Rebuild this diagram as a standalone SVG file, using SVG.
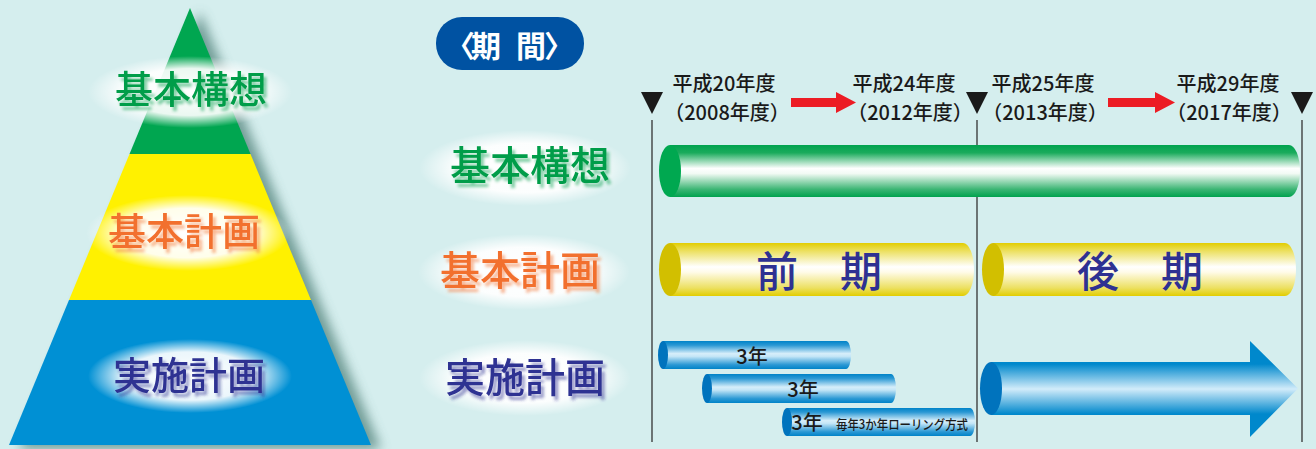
<svg xmlns="http://www.w3.org/2000/svg" width="1316" height="449" viewBox="0 0 1316 449">
<style>
.jp{font-family:"Noto Sans CJK JP","Noto Sans CJK SC",sans-serif}
.lbl{font-size:38px;text-anchor:middle;font-weight:500}
.lbl2{font-size:40px;text-anchor:middle;font-weight:500}
.g{fill:#009d48}
.o{fill:#f2702e}
.b{fill:#2e3192}
.hd{font-size:20px;fill:#1a1a1a;text-anchor:middle;font-weight:500}
.yr{font-size:20px;fill:#1a1a1a;text-anchor:middle;font-weight:500}
.vline{stroke:#333;stroke-width:1.3;fill:none}
.tri{fill:#1a1a1a}
.red{fill:#ec1c24}
</style>
<defs>
<radialGradient id="glow" cx="0.5" cy="0.5" r="0.5">
<stop offset="0" stop-color="#fff" stop-opacity="1"/>
<stop offset="0.65" stop-color="#fff" stop-opacity="0.92"/>
<stop offset="1" stop-color="#fff" stop-opacity="0"/>
</radialGradient>
<linearGradient id="gG" x1="0" y1="0" x2="0" y2="1">
<stop offset="0" stop-color="#00a24e"/>
<stop offset="0.15" stop-color="#1aab5c"/>
<stop offset="0.45" stop-color="#ffffff"/>
<stop offset="0.55" stop-color="#f2faf4"/>
<stop offset="0.85" stop-color="#3db675"/>
<stop offset="1" stop-color="#00a24e"/>
</linearGradient>
<linearGradient id="gY" x1="0" y1="0" x2="0" y2="1">
<stop offset="0" stop-color="#e2cd00"/>
<stop offset="0.15" stop-color="#ece060"/>
<stop offset="0.45" stop-color="#ffffff"/>
<stop offset="0.55" stop-color="#fffbe8"/>
<stop offset="0.85" stop-color="#ece060"/>
<stop offset="1" stop-color="#e2cd00"/>
</linearGradient>
<linearGradient id="gB" x1="0" y1="0" x2="0" y2="1">
<stop offset="0" stop-color="#0083c8"/>
<stop offset="0.15" stop-color="#2a98d4"/>
<stop offset="0.45" stop-color="#d6eefa"/>
<stop offset="0.55" stop-color="#c4e6f7"/>
<stop offset="0.85" stop-color="#2a98d4"/>
<stop offset="1" stop-color="#0083c8"/>
</linearGradient>
<linearGradient id="gA" gradientUnits="userSpaceOnUse" x1="0" y1="341" x2="0" y2="437">
<stop offset="0" stop-color="#0088cc"/>
<stop offset="0.24" stop-color="#0088cc"/>
<stop offset="0.5" stop-color="#d2ecfa"/>
<stop offset="0.76" stop-color="#0088cc"/>
<stop offset="1" stop-color="#0088cc"/>
</linearGradient>
<filter id="pshadow" x="-20%" y="-20%" width="140%" height="140%">
<feGaussianBlur stdDeviation="6"/>
</filter>
<filter id="tsh" x="-10%" y="-20%" width="130%" height="150%">
<feGaussianBlur in="SourceGraphic" stdDeviation="1.8" result="bl"/>
<feOffset in="bl" dx="3" dy="4" result="of"/>
<feComponentTransfer in="of" result="sh"><feFuncA type="linear" slope="0.5"/></feComponentTransfer>
<feMerge><feMergeNode in="sh"/><feMergeNode in="SourceGraphic"/></feMerge>
</filter>
</defs>
<rect width="1316" height="449" fill="#d5eeee"/>

<g id="pyramid">
<polygon points="190,8 9,445 371,445" fill="#4f8078" opacity="0.75" transform="translate(10,4)" filter="url(#pshadow)"/>
<polygon points="190,8 129.5,154 250.5,154" fill="#00a650"/>
<polygon points="129.5,154 250.5,154 311,300 69,300" fill="#fff100"/>
<polygon points="69,300 311,300 371,445 9,445" fill="#0090d4"/>
<ellipse cx="190" cy="92" rx="102" ry="36" fill="url(#glow)"/>
<ellipse cx="188" cy="233" rx="102" ry="38" fill="url(#glow)"/>
<ellipse cx="190" cy="376" rx="102" ry="37" fill="url(#glow)"/>
<text class="jp lbl g" x="191" y="103" filter="url(#tsh)">基本構想</text>
<text class="jp lbl o" x="184" y="245" filter="url(#tsh)">基本計画</text>
<text class="jp lbl b" x="189" y="389" filter="url(#tsh)">実施計画</text>
</g>

<g id="period-badge">
<rect x="436" y="17" width="148" height="53" rx="26" fill="#0052a2"/>
<text class="jp" font-size="30" font-weight="bold" fill="#fff" y="57" x="445 471 501 516 544">〈期 間〉</text>
</g>

<g id="row-labels">
<ellipse cx="525" cy="168" rx="106" ry="38" fill="url(#glow)"/>
<ellipse cx="524" cy="272" rx="106" ry="38" fill="url(#glow)"/>
<ellipse cx="525" cy="378" rx="106" ry="38" fill="url(#glow)"/>
<text class="jp lbl2 g" x="530" y="180" filter="url(#tsh)">基本構想</text>
<text class="jp lbl2 o" x="520" y="285" filter="url(#tsh)">基本計画</text>
<text class="jp lbl2 b" x="525" y="392" filter="url(#tsh)">実施計画</text>
</g>

<g id="timeline">
<line class="vline" x1="652" y1="120" x2="652" y2="442"/>
<line class="vline" x1="977" y1="120" x2="977" y2="442"/>
<line class="vline" x1="1302" y1="120" x2="1302" y2="442"/>
<polygon class="tri" points="641,92 663,92 652,114"/>
<polygon class="tri" points="966,92 988,92 977,114"/>
<polygon class="tri" points="1291,92 1313,92 1302,114"/>
<text class="jp hd" x="724" y="91">平成20年度</text>
<text class="jp hd" x="727" y="120">（2008年度）</text>
<text class="jp hd" x="904" y="91">平成24年度</text>
<text class="jp hd" x="910" y="120">（2012年度）</text>
<text class="jp hd" x="1043" y="91">平成25年度</text>
<text class="jp hd" x="1045" y="120">（2013年度）</text>
<text class="jp hd" x="1228" y="91">平成29年度</text>
<text class="jp hd" x="1229" y="120">（2017年度）</text>
</g>

<g id="connectors">
<polygon class="red" points="791,98 836,98 836,92 856,102.5 836,113 836,107 791,107"/>
<polygon class="red" points="1108,98 1155,98 1155,92 1175,102.5 1155,113 1155,107 1108,107"/>
</g>

<g id="bar-kihon-kousou">
<path d="M670,145 H1289 A11,26 0 0 1 1289,197 H670 Z" fill="url(#gG)"/>
<ellipse cx="670" cy="171" rx="11" ry="26" fill="#00a850"/>
</g>

<g id="bar-zenki">
<path d="M670,243 H963 A11,26.5 0 0 1 963,296 H670 Z" fill="url(#gY)"/>
<ellipse cx="670" cy="269.5" rx="11" ry="26.5" fill="#d2bf00"/>
<text class="jp b" font-size="42" font-weight="500" x="819" y="287" text-anchor="middle">前　期</text>
</g>

<g id="bar-kouki">
<path d="M993,243 H1285 A11,26.5 0 0 1 1285,296 H993 Z" fill="url(#gY)"/>
<ellipse cx="993" cy="269.5" rx="11" ry="26.5" fill="#d2bf00"/>
<text class="jp b" font-size="42" font-weight="500" x="1140" y="287" text-anchor="middle">後　期</text>
</g>

<g id="bar-3y-1">
<path d="M663,341 H846 A5,14 0 0 1 846,369 H663 Z" fill="url(#gB)"/>
<ellipse cx="663" cy="355" rx="5" ry="14" fill="#0073bd"/>
<text class="jp yr" x="752" y="364">3年</text>
</g>
<g id="bar-3y-2">
<path d="M707,374 H891 A5,14.5 0 0 1 891,403 H707 Z" fill="url(#gB)"/>
<ellipse cx="707" cy="388.5" rx="5" ry="14.5" fill="#0073bd"/>
<text class="jp yr" x="803" y="397">3年</text>
</g>
<g id="bar-3y-3">
<path d="M787,408 H970 A5,14 0 0 1 970,436 H787 Z" fill="url(#gB)"/>
<ellipse cx="787" cy="422" rx="5" ry="14" fill="#0073bd"/>
<text class="jp yr" x="807" y="430">3年</text>
<text class="jp" font-size="13" font-weight="500" fill="#1a1a1a" x="836" y="429" textLength="132" lengthAdjust="spacingAndGlyphs">毎年3か年ローリング方式</text>
</g>

<g id="arrow-kouki">
<path d="M991,362 H1250 V341 L1298,388.5 L1250,437 V415 H991 Z" fill="url(#gA)"/>
<ellipse cx="991" cy="388.5" rx="11" ry="26.5" fill="#0073bd"/>
</g>
</svg>
